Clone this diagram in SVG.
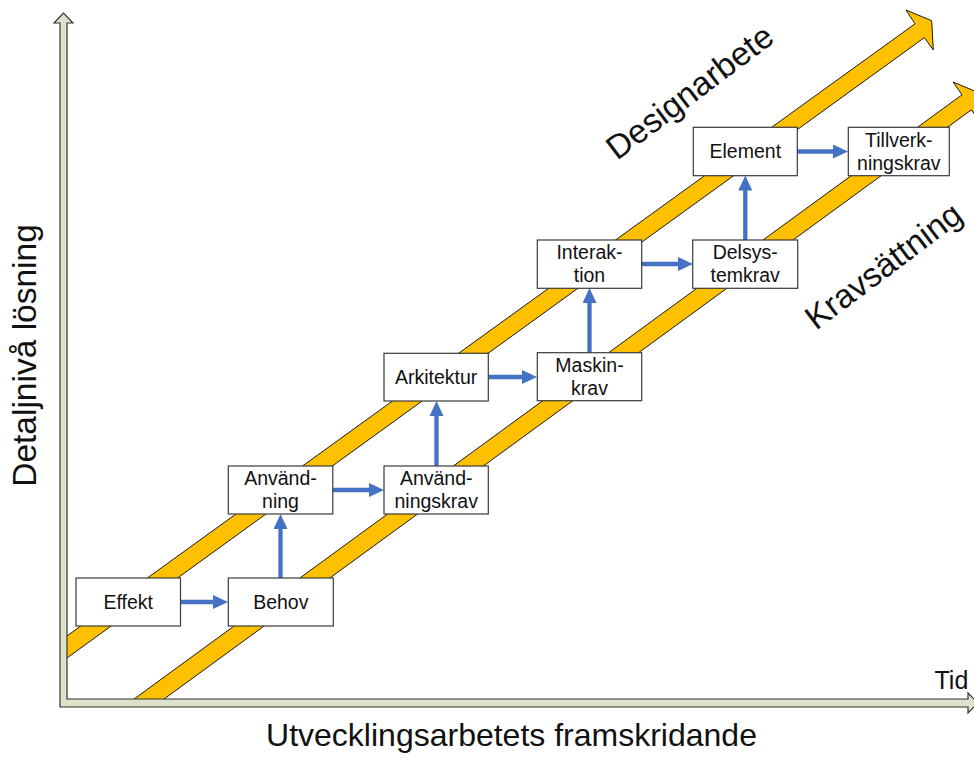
<svg xmlns="http://www.w3.org/2000/svg" width="974" height="758" viewBox="0 0 974 758">
<defs>
<style>
.band{fill:#FFC000;stroke:#1a1a1a;stroke-width:1}
.axis{fill:#DEE2CB;stroke:#333;stroke-width:1.2}
.box{fill:#fff;stroke:#3a3a3a;stroke-width:1.2}
.lbl{font-family:"Liberation Sans",Arial,sans-serif;font-size:19.5px;fill:#111;text-anchor:middle}
.big{font-family:"Liberation Sans",Arial,sans-serif;font-size:32px;fill:#111}
.rot{font-size:33.5px}
.con{stroke:#4472C4;stroke-width:4.3;fill:none;stroke-linecap:round}
</style>
<marker id="ah" markerUnits="userSpaceOnUse" markerWidth="16" markerHeight="15" refX="0" refY="7" orient="auto">
<path d="M0,0 L15,7 L0,14 z" fill="#4472C4"/>
</marker>
</defs>
<rect width="974" height="758" fill="#fff"/>
<g id="bands">
<polygon class="band" points="62,639.6 915,23.8 906,10 931.7,20.7 933.3,50 924.3,37.7 62,661.6"/>
<polygon class="band" points="128.6,703 962,94.8 953,82 978.7,92.7 980.3,122 971.3,109.9 158.6,703"/>
</g>
<g id="axes">
<polygon class="axis" points="60,707 60,23 54,23 63.5,13 73,23 67,23 67,699 968,699 968,693 978,703 968,713 968,707"/>
</g>
<g id="connectors">
<line class="con" x1="181" y1="602" x2="213" y2="602" marker-end="url(#ah)"/>
<line class="con" x1="280.5" y1="577" x2="280.5" y2="529" marker-end="url(#ah)"/>
<line class="con" x1="334" y1="490" x2="369" y2="490" marker-end="url(#ah)"/>
<line class="con" x1="436.5" y1="465" x2="436.5" y2="416" marker-end="url(#ah)"/>
<line class="con" x1="489" y1="377" x2="522" y2="377" marker-end="url(#ah)"/>
<line class="con" x1="589.5" y1="352" x2="589.5" y2="303" marker-end="url(#ah)"/>
<line class="con" x1="643" y1="264" x2="678" y2="264" marker-end="url(#ah)"/>
<line class="con" x1="745.3" y1="239" x2="745.3" y2="190.5" marker-end="url(#ah)"/>
<line class="con" x1="798" y1="151.5" x2="833" y2="151.5" marker-end="url(#ah)"/>
</g>
<g id="effekt"><rect class="box" x="76" y="578" width="104.5" height="48"/><text class="lbl" x="128.3" y="609">Effekt</text></g>
<g id="behov"><rect class="box" x="228.3" y="578" width="105" height="48"/><text class="lbl" x="280.8" y="609">Behov</text></g>
<g id="anvandning"><rect class="box" x="228.3" y="466" width="104.5" height="48"/><text class="lbl" x="280.5" y="485">Använd-</text><text class="lbl" x="280.5" y="508">ning</text></g>
<g id="anvandningskrav"><rect class="box" x="384" y="466" width="104.3" height="48"/><text class="lbl" x="436.2" y="485">Använd-</text><text class="lbl" x="436.2" y="508">ningskrav</text></g>
<g id="arkitektur"><rect class="box" x="384" y="353.3" width="104.3" height="47.7"/><text class="lbl" x="436.2" y="384">Arkitektur</text></g>
<g id="maskinkrav"><rect class="box" x="537.3" y="352.7" width="104.4" height="48"/><text class="lbl" x="589.5" y="371.7">Maskin-</text><text class="lbl" x="589.5" y="395">krav</text></g>
<g id="interaktion"><rect class="box" x="537.3" y="240" width="104.4" height="48.3"/><text class="lbl" x="589.5" y="259">Interak-</text><text class="lbl" x="589.5" y="282">tion</text></g>
<g id="delsystemkrav"><rect class="box" x="692.7" y="240" width="105" height="48.3"/><text class="lbl" x="745.2" y="258.7">Delsys-</text><text class="lbl" x="745.2" y="282">temkrav</text></g>
<g id="element"><rect class="box" x="693.3" y="127.3" width="104" height="48.4"/><text class="lbl" x="745.3" y="158.3">Element</text></g>
<g id="tillverkningskrav"><rect class="box" x="848.3" y="127.3" width="101" height="48.4"/><text class="lbl" x="898.8" y="146.5">Tillverk-</text><text class="lbl" x="898.8" y="169.8">ningskrav</text></g>
<g id="labels">
<text class="big rot" x="617" y="161" transform="rotate(-37 617 161)">Designarbete</text>
<text class="big rot" x="816" y="331" transform="rotate(-37 816 331)">Kravsättning</text>
<text class="big" x="36" y="355.5" text-anchor="middle" style="font-size:33.5px" transform="rotate(-90 36 355.5)">Detaljnivå lösning</text>
<text class="big" x="511.5" y="746" text-anchor="middle">Utvecklingsarbetets framskridande</text>
<text class="big" x="934.5" y="689" style="font-size:25px">Tid</text>
</g>
</svg>
